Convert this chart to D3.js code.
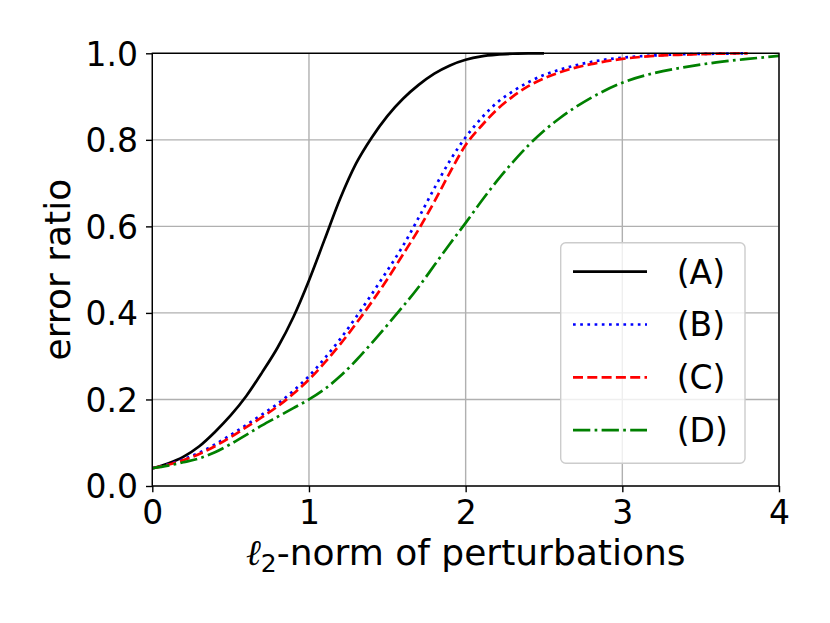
<!DOCTYPE html>
<html>
<head>
<meta charset="utf-8">
<script src="https://cdn.jsdelivr.net/npm/d3@7"></script>
<style>
  html, body { margin: 0; padding: 0; background: #fff; overflow: hidden; }
  svg { display: block; }
  text { font-family: "DejaVu Sans", sans-serif; fill: #000; }
</style>
</head>
<body>
<div id="chart"></div>
<script>
// x positions shared by all series (l2-norm)
const xs = [0, 0.1, 0.2, 0.3, 0.4, 0.5, 0.6, 0.7, 0.8, 0.9, 1.0, 1.1, 1.2, 1.3, 1.4, 1.5, 1.6, 1.7,
            1.8, 1.9, 2.0, 2.1, 2.2, 2.3, 2.4, 2.5, 2.6, 2.8, 3.0, 3.2, 3.4, 3.6, 3.8, 4.0];

// error ratio per method (null = curve already ended)
const seriesA = [0.041, 0.052, 0.068, 0.092, 0.125, 0.163, 0.208, 0.262, 0.32, 0.39, 0.475, 0.57, 0.665, 0.745,
                 0.805, 0.855, 0.895, 0.927, 0.953, 0.972, 0.985, 0.993, 0.997, 0.999, 1.0, 1.0,
                 null, null, null, null, null, null, null, null];
const seriesB = [0.041, 0.05, 0.062, 0.077, 0.096, 0.118, 0.141, 0.165, 0.19, 0.22, 0.254, 0.295, 0.34, 0.39,
                 0.443, 0.498, 0.555, 0.62, 0.688, 0.752, 0.806, 0.85, 0.886, 0.912, 0.933, 0.95,
                 0.962, 0.98, 0.99, 0.995, 0.998, 0.999, 1.0, null];
const seriesC = [0.041, 0.049, 0.06, 0.074, 0.092, 0.113, 0.136, 0.159, 0.184, 0.213, 0.246, 0.285, 0.328, 0.375,
                 0.425, 0.478, 0.535, 0.593, 0.657, 0.725, 0.788, 0.832, 0.87, 0.9, 0.924, 0.942,
                 0.956, 0.975, 0.987, 0.994, 0.997, 0.999, 1.0, null];
const seriesD = [0.041, 0.047, 0.055, 0.064, 0.078, 0.097, 0.118, 0.14, 0.16, 0.18, 0.2, 0.224, 0.254, 0.29,
                 0.33, 0.372, 0.415, 0.46, 0.51, 0.56, 0.608, 0.658, 0.705, 0.748, 0.787, 0.821,
                 0.85, 0.897, 0.932, 0.954, 0.968, 0.979, 0.987, 0.994];

const labels = ["(A)", "(B)", "(C)", "(D)"];
const colors = ["#000000", "#0000ff", "#ff0000", "#008000"];
const dashes = [null, "2.7,4.5", "10,4.3", "17.3,4.3,2.7,4.3"];

const xTicks = [0, 1, 2, 3, 4];
const yTicks = [0, 0.2, 0.4, 0.6, 0.8, 1.0];

const width = 830, height = 623;
const margin = {left: 152.3, top: 53.3, right: 51, bottom: 137};
const innerWidth = width - margin.left - margin.right;
const innerHeight = height - margin.top - margin.bottom;

const svg = d3.select("#chart")
    .append("svg")
    .attr("width", width)
    .attr("height", height);

const g = svg.append("g")
    .attr("transform", `translate(${margin.left}, ${margin.top})`);

const x = d3.scaleLinear().domain([0, 4]).range([0, innerWidth]);
const y = d3.scaleLinear().domain([0, 1]).range([innerHeight, 0]);

// Grid lines
g.append("g")
    .selectAll("line")
    .data(xTicks)
    .join("line")
    .attr("x1", d => x(d)).attr("x2", d => x(d))
    .attr("y1", 0).attr("y2", innerHeight)
    .attr("stroke", "#b0b0b0")
    .attr("stroke-width", 1.4);
g.append("g")
    .selectAll("line")
    .data(yTicks)
    .join("line")
    .attr("y1", d => y(d)).attr("y2", d => y(d))
    .attr("x1", 0).attr("x2", innerWidth)
    .attr("stroke", "#b0b0b0")
    .attr("stroke-width", 1.4);

// Series lines
const allSeries = [seriesA, seriesB, seriesC, seriesD];
const line = d3.line()
    .defined(d => d[1] !== null)
    .x(d => x(d[0]))
    .y(d => y(d[1]))
    .curve(d3.curveMonotoneX);

g.append("g")
    .selectAll("path")
    .data(allSeries)
    .join("path")
    .attr("d", s => line(s.map((v, i) => [xs[i], v])))
    .attr("fill", "none")
    .attr("stroke", (s, i) => colors[i])
    .attr("stroke-width", 2.7)
    .attr("stroke-dasharray", (s, i) => dashes[i]);

// Axes
const xAxis = g.append("g")
    .attr("transform", `translate(0, ${innerHeight})`)
    .call(d3.axisBottom(x).tickValues(xTicks).tickFormat(d3.format("d")).tickSize(6.3).tickPadding(8));
const yAxis = g.append("g")
    .call(d3.axisLeft(y).tickValues(yTicks).tickFormat(d3.format(".1f")).tickSize(6.3).tickPadding(8));

[xAxis, yAxis].forEach(a => {
    a.attr("font-size", 33).attr("font-family", "DejaVu Sans");
    a.select(".domain").remove();
    a.selectAll(".tick line").attr("stroke", "#000").attr("stroke-width", 1.4);
});
yAxis.selectAll(".tick text").attr("dy", "0.36em");
xAxis.selectAll(".tick text").attr("dy", "0.73em");

// Frame
g.append("rect")
    .attr("width", innerWidth)
    .attr("height", innerHeight)
    .attr("fill", "none")
    .attr("stroke", "#000")
    .attr("stroke-width", 1.4);

// Axis titles
const xTitle = svg.append("text")
    .attr("x", margin.left + innerWidth / 2)
    .attr("y", 565)
    .attr("text-anchor", "middle")
    .attr("font-size", 36);
xTitle.append("tspan").attr("font-style", "italic").attr("font-family", "DejaVu Serif").text("ℓ");
xTitle.append("tspan").attr("font-size", 25).attr("dy", 7).text("2");
xTitle.append("tspan").attr("dy", -7).text("-norm of perturbations");

svg.append("text")
    .attr("transform", `translate(70, ${margin.top + innerHeight / 2}) rotate(-90)`)
    .attr("text-anchor", "middle")
    .attr("font-size", 36)
    .text("error ratio");

// Legend
const legend = svg.append("g").attr("transform", "translate(560.7, 242.7)");
legend.append("rect")
    .attr("width", 184.3)
    .attr("height", 220.6)
    .attr("rx", 5)
    .attr("fill", "#fff")
    .attr("fill-opacity", 0.8)
    .attr("stroke", "#cccccc")
    .attr("stroke-width", 1.4);

const rows = legend.selectAll("g.row")
    .data(labels)
    .join("g")
    .attr("class", "row")
    .attr("transform", (d, i) => `translate(0, ${29 + i * 52.8})`);
rows.append("line")
    .attr("x1", 12.3).attr("x2", 86.3)
    .attr("stroke", (d, i) => colors[i])
    .attr("stroke-width", 2.7)
    .attr("stroke-dasharray", (d, i) => dashes[i]);
rows.append("text")
    .attr("x", 116)
    .attr("dy", "0.36em")
    .attr("font-size", 33)
    .text(d => d);
</script>
</body>
</html>
